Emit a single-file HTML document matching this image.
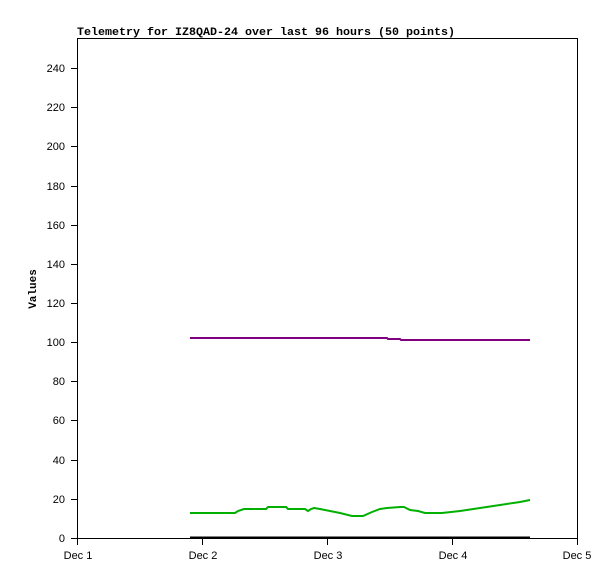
<!DOCTYPE html>
<html><head><style>body{margin:0;background:#fff}</style></head><body>
<svg width="615" height="579" xmlns="http://www.w3.org/2000/svg" style="display:block">
<rect width="615" height="579" fill="#fff"/>
<text x="77" y="35" font-family="Liberation Mono, monospace" font-size="11" font-weight="bold" textLength="378" lengthAdjust="spacingAndGlyphs">Telemetry for IZ8QAD-24 over last 96 hours (50 points)</text>
<rect x="77.5" y="38.5" width="500" height="500" fill="none" stroke="#000"/>
<g stroke="#000">
<line x1="71" y1="68.5" x2="77" y2="68.5"/><line x1="71" y1="107.5" x2="77" y2="107.5"/><line x1="71" y1="146.5" x2="77" y2="146.5"/><line x1="71" y1="186.5" x2="77" y2="186.5"/><line x1="71" y1="225.5" x2="77" y2="225.5"/><line x1="71" y1="264.5" x2="77" y2="264.5"/><line x1="71" y1="303.5" x2="77" y2="303.5"/><line x1="71" y1="342.5" x2="77" y2="342.5"/><line x1="71" y1="381.5" x2="77" y2="381.5"/><line x1="71" y1="420.5" x2="77" y2="420.5"/><line x1="71" y1="460.5" x2="77" y2="460.5"/><line x1="71" y1="499.5" x2="77" y2="499.5"/><line x1="71" y1="538.5" x2="77" y2="538.5"/>
<line x1="77.5" y1="538" x2="77.5" y2="545"/><line x1="202.5" y1="538" x2="202.5" y2="545"/><line x1="327.5" y1="538" x2="327.5" y2="545"/><line x1="452.5" y1="538" x2="452.5" y2="545"/><line x1="577.5" y1="538" x2="577.5" y2="545"/>
</g>
<g font-family="Liberation Sans, sans-serif" font-size="11" text-anchor="end">
<text x="65" y="72">240</text><text x="65" y="111">220</text><text x="65" y="150">200</text><text x="65" y="190">180</text><text x="65" y="229">160</text><text x="65" y="268">140</text><text x="65" y="307">120</text><text x="65" y="346">100</text><text x="65" y="385">80</text><text x="65" y="424">60</text><text x="65" y="464">40</text><text x="65" y="503">20</text><text x="65" y="542">0</text>
</g>
<g font-family="Liberation Sans, sans-serif" font-size="11" text-anchor="middle">
<text x="78" y="559">Dec 1</text><text x="203" y="559">Dec 2</text><text x="328" y="559">Dec 3</text><text x="453" y="559">Dec 4</text><text x="577" y="559">Dec 5</text>
</g>
<text transform="translate(36,289) rotate(-90)" font-family="Liberation Mono, monospace" font-size="11" font-weight="bold" text-anchor="middle">Values</text>
<polyline fill="none" stroke="#000" stroke-width="2" points="190,537.5 530,537.5"/>
<polyline fill="none" stroke="#800080" stroke-width="2" points="190,338 387,338 388,339 400,339 401,340 530,340"/>
<polyline fill="none" stroke="#00b000" stroke-width="2" points="190,513 235,513 238,511 244,509 266,509 268,507 286,507 288,509 305,509 308,511 311,509 314,508 320,509 330,511 340,513 352,516 363,516 372,512 380,509 387,508 400,507 404,507 410,510 418,511 425,513 442,513 460,511 480,508 500,505 520,502 530,500"/>
</svg>
</body></html>
